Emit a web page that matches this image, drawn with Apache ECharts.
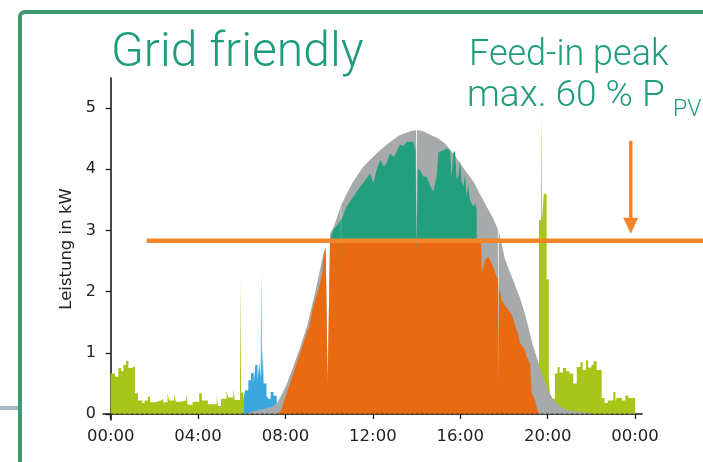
<!DOCTYPE html>
<html>
<head>
<meta charset="utf-8">
<script src="https://cdn.jsdelivr.net/npm/echarts@6/dist/echarts.min.js"></script>
<style>
  html, body { margin: 0; padding: 0; background: #fff; }
  #chart { width: 703px; height: 462px; }
</style>
</head>
<body>
<div id="chart"></div>
<script>
// Daily power profile of a household with PV and battery (time in h, power in kW)
const hourTicks = [0, 4, 8, 12, 16, 20, 24];
const powerTicks = [0, 1, 2, 3, 4, 5];
const feedInLimit = 2.83; // 60 % of PV peak

// grid consumption (stepped)
const gridDraw = [
  [0.0, 0.66], [0.2, 0.61], [0.35, 0.75], [0.48, 0.7], [0.58, 0.8], [0.7, 0.87], [0.81, 0.75], [0.95, 0.78],
  [1.11, 0.34], [1.25, 0.22], [1.45, 0.18], [1.55, 0.22], [1.7, 0.28], [1.8, 0.19], [2.05, 0.22], [2.3, 0.25],
  [2.4, 0.19], [2.6, 0.33], [2.68, 0.22], [2.9, 0.33], [2.98, 0.2], [3.2, 0.22], [3.45, 0.33], [3.52, 0.15],
  [3.75, 0.2], [4.05, 0.34], [4.17, 0.22], [4.45, 0.16], [4.85, 0.3], [4.92, 0.13], [5.05, 0.25], [5.3, 0.38],
  [5.38, 0.27], [5.6, 0.4], [5.68, 0.23], [5.92, 2.27], [5.97, 0.35], [6.07, 0],
  [19.6, 3.17], [19.7, 4.97], [19.75, 3.17], [19.82, 3.6], [19.95, 2.2], [20.05, 0.6], [20.12, 0.25],
  [20.33, 0.66], [20.45, 0.77], [20.55, 0.68], [20.7, 0.75], [20.85, 0.7], [21.0, 0.66], [21.17, 0.5],
  [21.33, 0.77], [21.5, 0.85], [21.6, 0.72], [21.75, 0.88], [21.85, 0.76], [22.0, 0.8], [22.1, 0.86],
  [22.24, 0.72], [22.47, 0.26], [22.6, 0.18], [22.75, 0.22], [23.0, 0.36], [23.1, 0.2], [23.16, 0.26],
  [23.4, 0.22], [23.55, 0.3], [23.7, 0.26], [24.0, 0]
];

// battery discharge (stepped)
const batteryDischarge = [
  [6.07, 0.23], [6.15, 0.39], [6.3, 0.55], [6.42, 0.67], [6.55, 0.5], [6.62, 0.8], [6.72, 0.55], [6.8, 0.83],
  [6.86, 0.6], [6.9, 2.35], [6.92, 0.6], [6.96, 1.08], [7.0, 0.5], [7.13, 0.3], [7.22, 0.25], [7.32, 0.36],
  [7.45, 0.3], [7.6, 0]
];

// PV generation
const pvGeneration = [
  [6.05, 0], [6.5, 0.04], [7.0, 0.08], [7.4, 0.12], [7.6, 0.17], [7.8, 0.3], [8.05, 0.48], [8.3, 0.72],
  [8.66, 1.08], [9.0, 1.45], [9.27, 1.86], [9.5, 2.22], [9.73, 2.62], [9.84, 2.72], [9.93, 0.5], [10.04, 2.95],
  [10.2, 3.05], [10.4, 3.25], [10.53, 3.4], [10.54, 2.08], [10.55, 3.41], [10.8, 3.6], [11.1, 3.8], [11.56, 4.04],
  [12.0, 4.2], [12.32, 4.31], [12.8, 4.45], [13.2, 4.55], [13.7, 4.62], [13.98, 4.64], [14.0, 2.67], [14.02, 4.64],
  [14.3, 4.62], [14.7, 4.55], [15.0, 4.5], [15.3, 4.42], [15.7, 4.25], [16.2, 3.99], [16.6, 3.8], [17.13, 3.44],
  [17.5, 3.2], [17.72, 3.02], [17.74, 0.36], [17.76, 3.0], [18.05, 2.52], [18.4, 2.2], [18.73, 1.9], [18.97, 1.62],
  [19.3, 1.15], [19.65, 0.75], [20.0, 0.4], [20.26, 0.23], [20.6, 0.12], [20.87, 0.07], [21.3, 0.04], [21.8, 0.02],
  [22.1, 0]
];

// battery charging
const batteryCharge = [
  [10.04, 2.83], [10.19, 3.01], [10.4, 3.1], [10.53, 3.17], [10.54, 2.08], [10.55, 3.17], [10.8, 3.39],
  [11.1, 3.55], [11.41, 3.71], [11.72, 3.85], [11.87, 3.93], [12.02, 3.77], [12.17, 3.99], [12.33, 4.15],
  [12.5, 4.05], [12.63, 4.1], [12.78, 4.26], [12.95, 4.2], [13.09, 4.29], [13.24, 4.4], [13.4, 4.38],
  [13.55, 4.45], [13.85, 4.45], [13.95, 4.3], [14.0, 2.67], [14.05, 4.0], [14.15, 3.99], [14.3, 3.88],
  [14.46, 3.88], [14.6, 3.75], [14.76, 3.63], [14.84, 3.61], [14.92, 3.88], [15.0, 4.28], [15.07, 4.26],
  [15.2, 4.3], [15.38, 4.34], [15.53, 4.31], [15.6, 3.88], [15.68, 4.26], [15.76, 4.3], [15.83, 3.83],
  [15.92, 3.9], [15.99, 4.15], [16.06, 3.8], [16.14, 3.72], [16.22, 3.9], [16.29, 3.55], [16.36, 3.75],
  [16.44, 3.5], [16.52, 3.44], [16.6, 3.39], [16.68, 3.45], [16.75, 3.33], [16.76, 0]
];

// grid feed-in, capped at the limit
const feedIn = [
  [7.65, 0], [7.8, 0.06], [8.05, 0.34], [8.36, 0.66], [8.66, 0.99], [8.97, 1.32], [9.1, 1.45], [9.27, 1.75],
  [9.5, 2.03], [9.66, 2.24], [9.78, 2.65], [9.84, 2.7], [9.93, 0.5], [10.04, 2.83], [10.53, 2.83], [10.54, 2.08],
  [10.55, 2.83], [13.98, 2.83], [14.0, 2.67], [14.02, 2.83], [16.95, 2.83], [16.98, 2.3], [17.13, 2.52],
  [17.28, 2.57], [17.51, 2.4], [17.67, 2.24], [17.72, 2.2], [17.74, 0.36], [17.76, 2.1], [17.9, 1.86],
  [18.05, 1.77], [18.35, 1.63], [18.65, 1.3], [18.73, 1.16], [18.96, 1.05], [19.04, 0.94], [19.19, 0.83],
  [19.27, 0.34], [19.42, 0.23], [19.5, 0.1], [19.62, 0]
];

const AXIS_FONT = 'DejaVu Sans';
const TITLE_FONT = 'Roboto';
const GREEN = '#1f9c7b';
const ORANGE_LINE = '#f2852a';

function hhmm(v) {
  const h = Math.round(v) % 24;
  return (h < 10 ? '0' : '') + h + ':00';
}

function areaSeries(name, data, color, step, z) {
  return {
    name, type: 'line', data, step: step || false, z,
    showSymbol: false, symbol: 'none', silent: true,
    lineStyle: { width: 0 },
    areaStyle: { color, opacity: 1 },
    itemStyle: { color }
  };
}

const chart = echarts.init(document.getElementById('chart'), null, { renderer: 'canvas' });

chart.setOption({
  animation: false,
  backgroundColor: '#fff',
  grid: { left: 103, right: 61, top: 78, bottom: 42, containLabel: false },
  xAxis: {
    type: 'value', min: -0.352, max: 24.316,
    axisLine: { show: true, lineStyle: { color: '#1a1a1a', width: 1.6 } },
    axisTick: { show: true, customValues: hourTicks, length: 5, lineStyle: { color: '#1a1a1a', width: 1.3 } },
    axisLabel: {
      customValues: hourTicks, formatter: hhmm, margin: 8,
      fontFamily: AXIS_FONT, fontSize: 16.5, color: '#222'
    },
    splitLine: { show: false }
  },
  yAxis: {
    type: 'value', min: -0.098, max: 5.49,
    name: 'Leistung in kW', nameLocation: 'middle', nameGap: 22, nameRotate: 90,
    nameTextStyle: { fontFamily: AXIS_FONT, fontSize: 16.5, color: '#222' },
    axisLine: { show: true, lineStyle: { color: '#1a1a1a', width: 1.6 } },
    axisTick: { show: true, customValues: powerTicks, length: 5, lineStyle: { color: '#1a1a1a', width: 1.3 } },
    axisLabel: {
      customValues: powerTicks, margin: 7,
      fontFamily: AXIS_FONT, fontSize: 16, color: '#222'
    },
    splitLine: { show: false }
  },
  series: [
    areaSeries('Netzbezug', gridDraw, '#a8c61a', 'end', 2),
    areaSeries('Batterieentladung', batteryDischarge, '#3ba7dd', 'end', 3),
    areaSeries('PV-Erzeugung', pvGeneration, '#a6aaab', false, 4),
    areaSeries('Batterieladung', batteryCharge, '#22a07d', false, 5),
    areaSeries('Einspeisung', feedIn, '#e96a11', false, 6),
    {
      name: 'Nulllinie', type: 'line', z: 7, silent: true,
      data: [[0, 0], [24.316, 0]],
      showSymbol: false, symbol: 'none',
      lineStyle: { color: '#333', width: 1, type: [3, 2] }
    }
  ]
});

// annotation layer: frame, titles, feed-in limit line and arrow
const W = chart.getWidth();
const limitY = chart.convertToPixel({ yAxisIndex: 0 }, feedInLimit);
const limitX0 = chart.convertToPixel({ xAxisIndex: 0 }, 1.65);
const arrowX = chart.convertToPixel({ xAxisIndex: 0 }, 23.8);

chart.setOption({
  graphic: [
    {
      type: 'rect', z: 0, silent: true,
      shape: { x: 20, y: 12, width: 720, height: 480, r: 5 },
      style: { fill: 'none', stroke: '#3b9b6f', lineWidth: 4 }
    },
    {
      type: 'rect', z: 0, silent: true,
      shape: { x: 0, y: 406, width: 18, height: 4 },
      style: { fill: '#a3b9c8' }
    },
    {
      type: 'text', z: 10, x: 111, y: 54,
      style: { text: 'Grid friendly', font: '300 48px ' + TITLE_FONT, fill: GREEN, verticalAlign: 'middle' }
    },
    {
      type: 'text', z: 10, x: 469, y: 56,
      style: { text: 'Feed-in peak', font: '300 36px ' + TITLE_FONT, fill: GREEN, verticalAlign: 'middle' }
    },
    {
      type: 'text', z: 10, x: 467, y: 97,
      style: { text: 'max. 60 % P', font: '300 37px ' + TITLE_FONT, fill: GREEN, verticalAlign: 'middle' }
    },
    {
      type: 'text', z: 10, x: 673, y: 110,
      style: { text: 'PV', font: '300 23px ' + TITLE_FONT, fill: GREEN, verticalAlign: 'middle' }
    },
    {
      type: 'line', z: 20, silent: true,
      shape: { x1: limitX0, y1: limitY, x2: W, y2: limitY },
      style: { stroke: ORANGE_LINE, lineWidth: 4.5 }
    },
    {
      type: 'line', z: 20, silent: true,
      shape: { x1: arrowX, y1: limitY - 100, x2: arrowX, y2: limitY - 20 },
      style: { stroke: ORANGE_LINE, lineWidth: 3.5 }
    },
    {
      type: 'polygon', z: 20, silent: true,
      shape: { points: [[arrowX - 7.5, limitY - 23], [arrowX + 7.5, limitY - 23], [arrowX, limitY - 7]] },
      style: { fill: ORANGE_LINE }
    }
  ]
});
</script>
</body>
</html>
